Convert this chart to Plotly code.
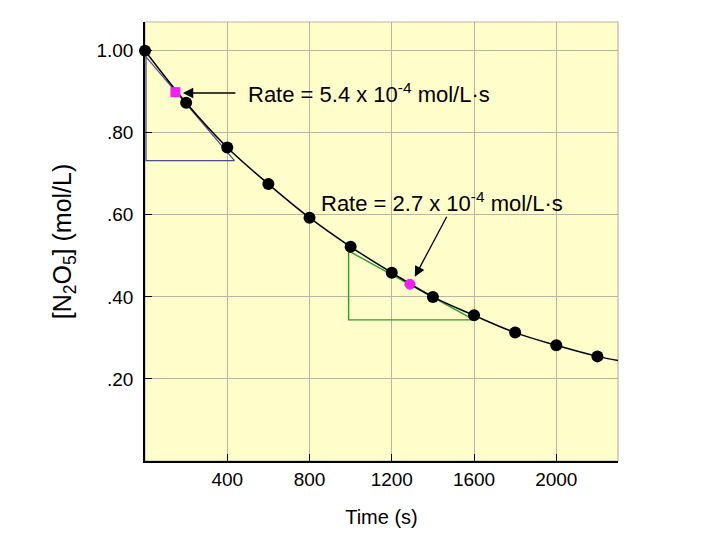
import plotly.graph_objects as go

# measured concentrations of N2O5
time_s = [0, 200, 400, 600, 800, 1000, 1200, 1400, 1600, 1800, 2000, 2200]
conc = [1.00, 0.873, 0.764, 0.675, 0.593, 0.522, 0.459, 0.400, 0.355, 0.313, 0.282, 0.255]

# smooth curve drawn through the data, running out to the right edge
curve_t = time_s + [2300]
curve_c = conc + [0.245]

# tangent points (magenta)
tangent1_t = [148]
tangent1_c = [0.899]
tangent2_t = [1288]
tangent2_c = [0.431]

# slope triangles
blue_tri_t = [5, 5, 435, 5]
blue_tri_c = [0.985, 0.732, 0.732, 0.985]
green_tri_t = [990, 990, 1600, 990]
green_tri_c = [0.512, 0.344, 0.344, 0.512]

x_ticks = [400, 800, 1200, 1600, 2000]
y_ticks = [0.20, 0.40, 0.60, 0.80, 1.00]
y_tick_text = ['.20', '.40', '.60', '.80', '1.00']

BG_COLOR = '#FFFDCA'
GRID_COLOR = '#B8B6A2'
FONT = 'Liberation Sans, Arial, sans-serif'

fig = go.Figure()

fig.add_trace(go.Scatter(x=blue_tri_t, y=blue_tri_c, mode='lines',
                         line=dict(color='#4A4A96', width=1.2), hoverinfo='skip'))
fig.add_trace(go.Scatter(x=green_tri_t, y=green_tri_c, mode='lines',
                         line=dict(color='#2E9A2E', width=1.4), hoverinfo='skip'))
fig.add_trace(go.Scatter(x=curve_t, y=curve_c, mode='lines',
                         line=dict(color='black', width=1.5, shape='spline'), hoverinfo='skip'))
fig.add_trace(go.Scatter(x=time_s, y=conc, mode='markers',
                         marker=dict(color='black', size=12), cliponaxis=False))
fig.add_trace(go.Scatter(x=tangent1_t, y=tangent1_c, mode='markers',
                         marker=dict(color='#EE22EE', size=10, symbol='square')))
fig.add_trace(go.Scatter(x=tangent2_t, y=tangent2_c, mode='markers',
                         marker=dict(color='#EE22EE', size=11)))

# rate labels
fig.add_annotation(x=490, y=0.897, text='Rate = 5.4 x 10<sup>-4</sup> mol/L·s',
                   showarrow=False, xanchor='left', yanchor='middle',
                   font=dict(size=22, color='black'))
fig.add_annotation(x=848, y=0.631, text='Rate = 2.7 x 10<sup>-4</sup> mol/L·s',
                   showarrow=False, xanchor='left', yanchor='middle',
                   font=dict(size=22, color='black'))

# arrows
fig.add_annotation(x=184, y=0.897, ax=447, ay=0.897, axref='x', ayref='y',
                   text='', showarrow=True, arrowhead=2, arrowsize=1.6,
                   arrowwidth=1.3, arrowcolor='black')
fig.add_annotation(x=1312, y=0.449, ax=1471, ay=0.599, axref='x', ayref='y',
                   text='', showarrow=True, arrowhead=2, arrowsize=1.6,
                   arrowwidth=1.3, arrowcolor='black')

# gray frame on top / right
fig.add_shape(type='rect', xref='paper', yref='paper', x0=0, y0=0, x1=1, y1=1,
              line=dict(color=GRID_COLOR, width=1.2), layer='below')

fig.update_layout(
    width=720,
    height=540,
    margin=dict(l=137, r=110, t=14, b=87),
    paper_bgcolor='white',
    plot_bgcolor=BG_COLOR,
    showlegend=False,
    font=dict(family=FONT, color='black', size=19),
    xaxis=dict(
        range=[0, 2300],
        tickmode='array',
        tickvals=x_ticks,
        ticks='inside',
        ticklen=7,
        tickcolor='black',
        showgrid=True,
        gridcolor=GRID_COLOR,
        gridwidth=1,
        zeroline=False,
        showline=True,
        linecolor='black',
        linewidth=1.5,
        title=dict(text='Time (s)', font=dict(size=20), standoff=21),
        tickfont=dict(size=19),
    ),
    yaxis=dict(
        range=[0, 1.07],
        tickmode='array',
        tickvals=y_ticks,
        ticktext=y_tick_text,
        ticks='inside',
        ticklen=7,
        tickcolor='black',
        showgrid=True,
        gridcolor=GRID_COLOR,
        gridwidth=1,
        zeroline=False,
        showline=True,
        linecolor='black',
        linewidth=1.5,
        ticklabelstandoff=6,
        title=dict(text='[N<sub>2</sub>O<sub>5</sub>] (mol/L)', font=dict(size=25), standoff=18),
        tickfont=dict(size=19),
    ),
)

fig.write_html("out.html")
